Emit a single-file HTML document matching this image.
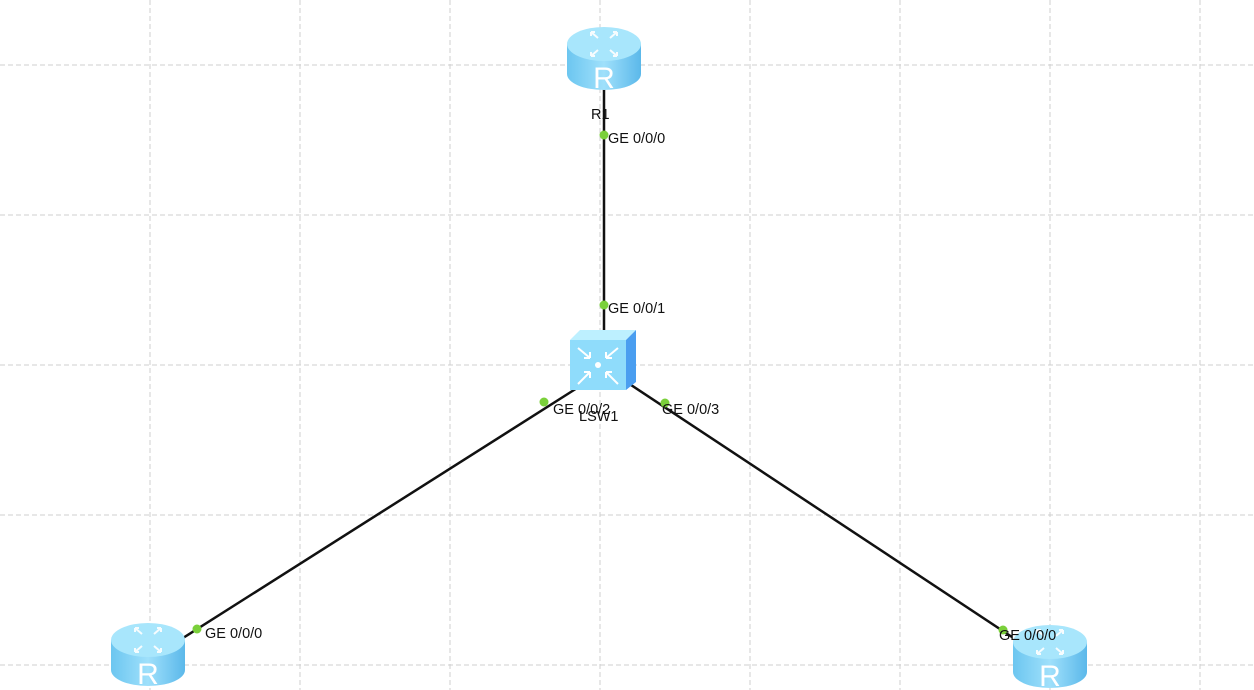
<!DOCTYPE html>
<html><head><meta charset="utf-8"><style>
html,body{margin:0;padding:0;background:#fff;}
svg{display:block;}
text{font-family:"Liberation Sans",sans-serif;font-size:14.5px;fill:#111;}
</style></head><body>
<svg width="1254" height="690" viewBox="0 0 1254 690">
<defs>
<linearGradient id="body" x1="0" x2="1" y1="0" y2="0">
<stop offset="0" stop-color="#6cc6f0"/><stop offset="0.5" stop-color="#9fe0fb"/><stop offset="1" stop-color="#5bb8ea"/>
</linearGradient>
<g id="router">
<path d="M0,18 L0,48 A37,16 0 0 0 74,48 L74,18 Z" fill="url(#body)"/>
<ellipse cx="37" cy="18" rx="37" ry="17" fill="#a8e6fc"/>
<g stroke="#fff" stroke-width="2" fill="none" opacity="0.9">
<path d="M31,12 L24,6 M24,6 L28,6 M24,6 L24,10"/>
<path d="M43,12 L50,6 M50,6 L46,6 M50,6 L50,10"/>
<path d="M31,24 L24,30 M24,30 L28,30 M24,30 L24,26"/>
<path d="M43,24 L50,30 M50,30 L46,30 M50,30 L50,26"/>
</g>
<text x="37" y="62" text-anchor="middle" style="font-size:30px;fill:#fff">R</text>
</g>
</defs>
<g stroke="#cfcfcf" stroke-width="1" stroke-dasharray="5,3">
<line x1="150" y1="0" x2="150" y2="690"/><line x1="300" y1="0" x2="300" y2="690"/>
<line x1="450" y1="0" x2="450" y2="690"/><line x1="600" y1="0" x2="600" y2="690"/>
<line x1="750" y1="0" x2="750" y2="690"/><line x1="900" y1="0" x2="900" y2="690"/>
<line x1="1050" y1="0" x2="1050" y2="690"/><line x1="1200" y1="0" x2="1200" y2="690"/>
<line x1="0" y1="65" x2="1254" y2="65"/><line x1="0" y1="215" x2="1254" y2="215"/>
<line x1="0" y1="365" x2="1254" y2="365"/><line x1="0" y1="515" x2="1254" y2="515"/>
<line x1="0" y1="665" x2="1254" y2="665"/>
</g>
<g stroke="#111" stroke-width="2.5">
<line x1="604" y1="88" x2="604" y2="332"/>
<line x1="585" y1="383" x2="183" y2="638"/>
<line x1="628" y1="383" x2="1012" y2="637"/>
</g>
<use href="#router" x="567" y="26"/>
<use href="#router" x="111" y="622"/>
<use href="#router" x="1013" y="624"/>
<polygon points="570,340 580,330 636,330 626,340" fill="#bdf0ff"/>
<polygon points="626,340 636,330 636,382 626,390" fill="#4a9ef0"/>
<rect x="570" y="340" width="56" height="50" fill="#8fdcfb"/>
<g stroke="#fff" stroke-width="2" fill="none">
<path d="M578,348 L590,358 M590,358 L584,358 M590,358 L590,352"/>
<path d="M618,348 L606,358 M606,358 L612,358 M606,358 L606,352"/>
<path d="M578,384 L590,372 M590,372 L584,372 M590,372 L590,378"/>
<path d="M618,384 L606,372 M606,372 L612,372 M606,372 L606,378"/>
</g>
<circle cx="598" cy="365" r="3" fill="#fff"/>
<g fill="#7ad03a">
<circle cx="604" cy="135" r="4.5"/><circle cx="604" cy="305" r="4.5"/>
<circle cx="544" cy="402" r="4.5"/><circle cx="665" cy="403" r="4.5"/>
<circle cx="197" cy="629" r="4.5"/><circle cx="1003" cy="630" r="4.5"/>
</g>
<text x="591" y="119">R1</text>
<text x="608" y="143">GE 0/0/0</text>
<text x="608" y="313">GE 0/0/1</text>
<text x="579" y="421">LSW1</text>
<text x="553" y="414">GE 0/0/2</text>
<text x="662" y="414">GE 0/0/3</text>
<text x="205" y="638">GE 0/0/0</text>
<text x="999" y="640">GE 0/0/0</text>
</svg>
</body></html>
